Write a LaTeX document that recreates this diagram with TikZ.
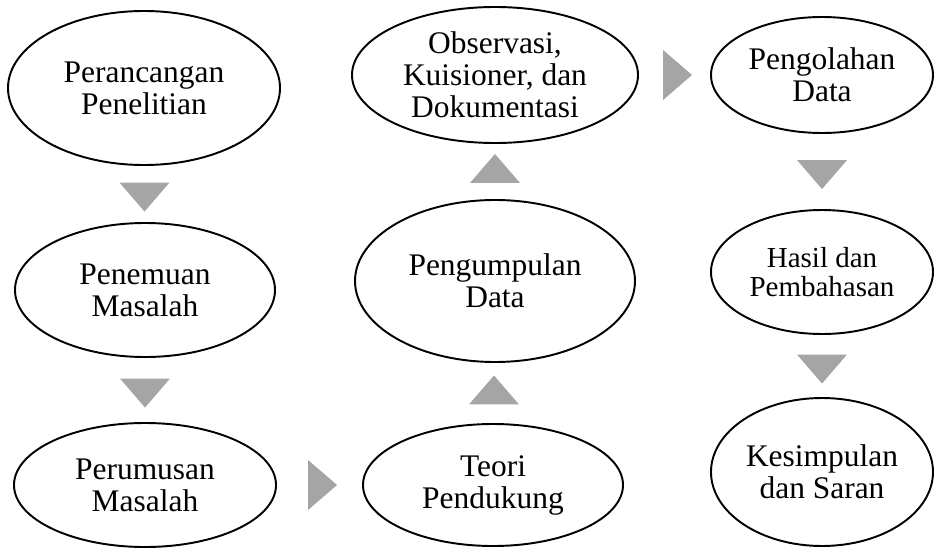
\documentclass[tikz,border=0pt]{standalone}
\usepackage{fontspec}
\setmainfont{Liberation Serif}
\usepackage{xcolor}
\usepackage{tikz}
\usetikzlibrary{positioning,shapes.geometric,calc}

\definecolor{arrowgray}{RGB}{165,165,165}

\begin{document}
\begin{tikzpicture}[
  font=\fontsize{17.9pt}{18.2pt}\selectfont,
  stagebox/.style={draw, ellipse, align=center, inner sep=0pt,
                   line width=1.1pt},
  tri/.style={isosceles triangle, isosceles triangle stretches,
              fill=arrowgray, inner sep=0pt, outer sep=0pt,
              minimum width=1.0cm, minimum height=0.58cm}
]
\useasboundingbox (0,0) rectangle (18.68,-10.94);

% --- first column ------------------------------------------------------
\node[stagebox, minimum width=5.44cm, minimum height=3.08cm] (e1) at (2.88,-1.76)
     {Perancangan\\Penelitian};
\node[stagebox, minimum width=5.20cm, minimum height=2.68cm] (e2) at (2.90,-5.80)
     {Penemuan\\Masalah};
\node[stagebox, minimum width=5.24cm, minimum height=2.48cm] (e3) at (2.90,-9.70)
     {Perumusan\\Masalah};

% --- second column -----------------------------------------------------
\node[stagebox, minimum width=5.20cm, minimum height=2.44cm] (e4) at (9.86,-9.70)
     {Teori\\Pendukung};
\node[stagebox, minimum width=5.60cm, minimum height=3.24cm] (e5) at (9.90,-5.62)
     {Pengumpulan\\Data};
\node[stagebox, minimum width=5.72cm, minimum height=2.72cm] (e6) at (9.90,-1.50)
     {Observasi,\\Kuisioner, dan\\Dokumentasi};

% --- third column ------------------------------------------------------
\node[stagebox, minimum width=4.44cm, minimum height=2.32cm] (e7) at (16.44,-1.50)
     {Pengolahan\\Data};
\node[stagebox, minimum width=4.44cm, minimum height=2.48cm,
      font=\fontsize{16.5pt}{16.8pt}\selectfont] (e8) at (16.44,-5.44)
     {Hasil dan\\Pembahasan};
\node[stagebox, minimum width=4.44cm, minimum height=2.96cm] (e9) at (16.44,-9.44)
     {Kesimpulan\\dan Saran};

% --- gray triangles between the stages --------------------------------
\foreach \a/\p/\b/\q/\r in {e1/south/e2/north/-90, e2/south/e3/north/-90,
    e3/east/e4/west/0, e4/north/e5/south/90, e5/north/e6/south/90,
    e6/east/e7/west/0, e7/south/e8/north/-90, e8/south/e9/north/-90}{%
  \node[tri, rotate=\r] (t-\a) at ($(\a.\p)!0.5!(\b.\q)$) {};
}

\end{tikzpicture}
\end{document}
